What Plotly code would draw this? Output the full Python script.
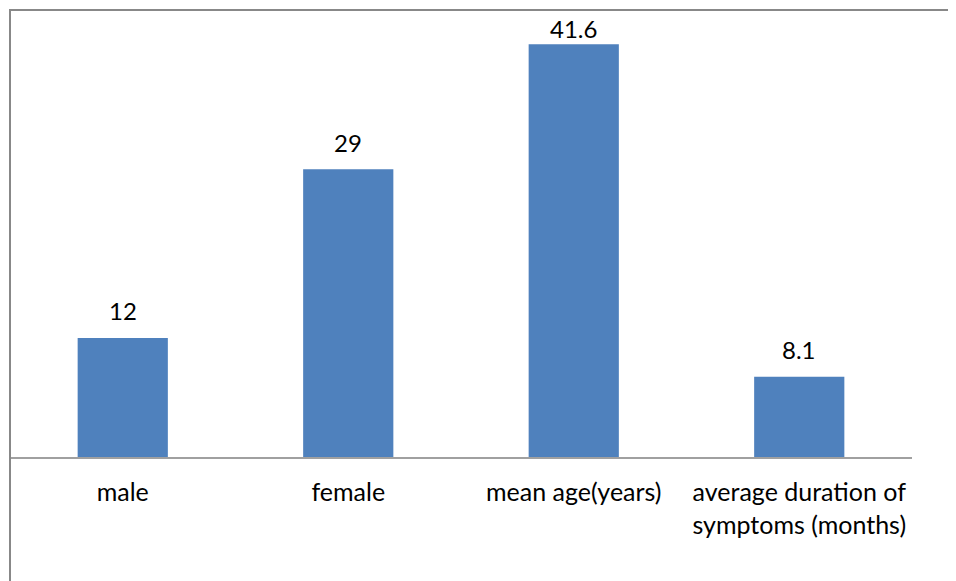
import plotly.graph_objects as go

categories = ["male", "female", "mean age(years)", "average duration of<br>symptoms (months)"]
values = [12, 29, 41.6, 8.1]
value_labels = ["12", "29", "41.6", "8.1"]

FONT = "Lato"
Y_MAX = 45.06
LABEL_GAP = 2.72      # data units between bar top and label centre
LABEL_CAP = 43.2      # labels cannot rise above this (kept inside frame)

fig = go.Figure(go.Bar(
    x=categories, y=values,
    marker=dict(color="#4F81BD", line=dict(width=0)),
    hoverinfo="skip",
))

annotations = [
    dict(x=c, y=min(v + LABEL_GAP, LABEL_CAP), xref="x", yref="y", text=t,
         showarrow=False, xanchor="center", yanchor="middle",
         font=dict(family=FONT, size=24, color="#000000"))
    for c, v, t in zip(categories, values, value_labels)
]

fig.update_layout(
    width=948, height=573,
    margin=dict(l=2, r=44, t=2, b=124),
    paper_bgcolor="white", plot_bgcolor="white",
    bargap=0.6, showlegend=False,
    font=dict(family=FONT, size=24, color="#000000"),
    xaxis=dict(showgrid=False, showline=True, linecolor="#A0A0A0", linewidth=2,
               ticks="", tickfont=dict(family=FONT, size=25, color="#000000"),
               ticklabelstandoff=12, zeroline=False),
    yaxis=dict(range=[0, Y_MAX], visible=False, showgrid=False, zeroline=False),
    annotations=annotations,
    shapes=[dict(type="rect", xref="paper", yref="paper",
                 x0=0, x1=1.2, y0=-0.5, y1=1,
                 line=dict(color="#888888", width=2), fillcolor="rgba(0,0,0,0)",
                 layer="above")],
)

fig.write_html("out.html")
